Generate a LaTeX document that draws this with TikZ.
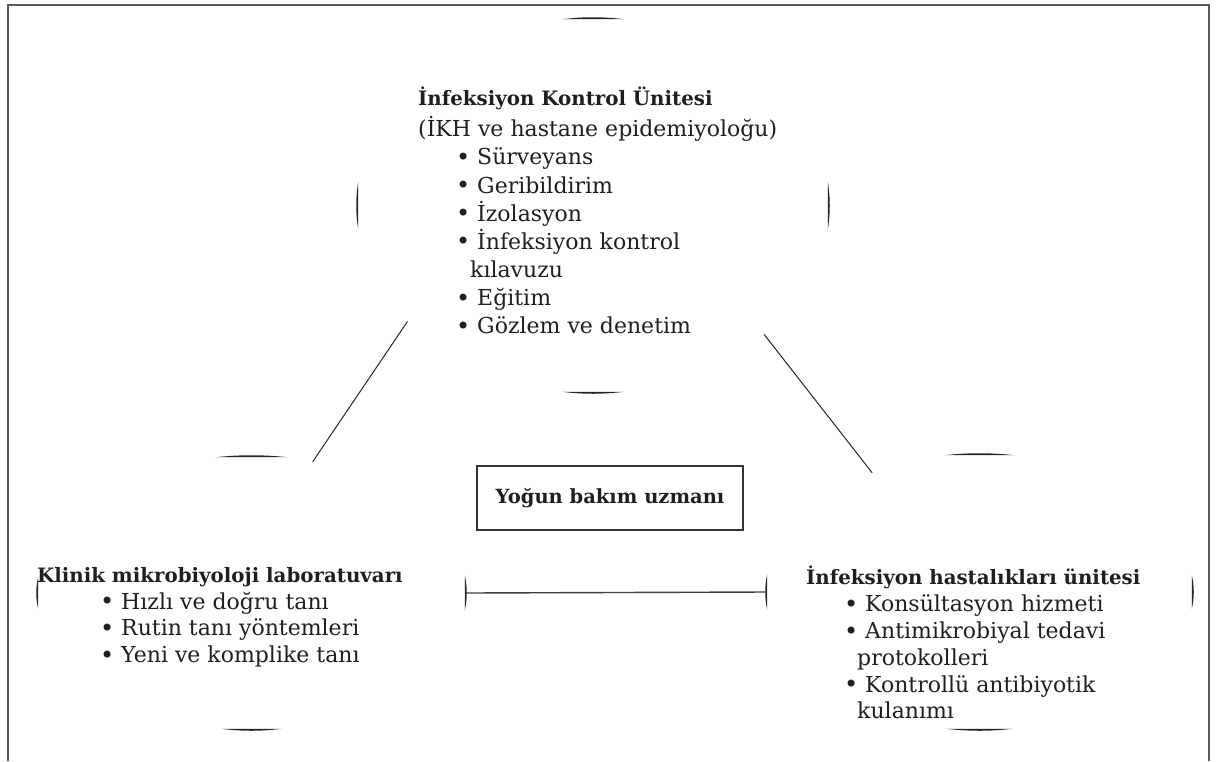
\documentclass[tikz,border=0pt]{standalone}
\usepackage{fontspec}
\setmainfont{DejaVu Serif}
\usetikzlibrary{shapes.geometric}
\newcommand\emark[3]{\fill[markc,shift={(#1)},rotate=#2] (-#3,1.2) .. controls (-0.3*#3,-1.4) and (0.3*#3,-1.4) .. (#3,1.2) .. controls (0.3*#3,1.0) and (-0.3*#3,1.0) .. cycle;}
\newcommand\bitem[1]{\hspace*{#1}\makebox[15pt][c]{\raisebox{-0.7pt}{\fontsize{24}{24}\selectfont\textbullet}}\hspace*{6.5pt}}
\newcommand\btitle[1]{{\fontsize{19.8}{27}\selectfont\bfseries #1}}
\begin{document}
\begin{tikzpicture}[x=1pt,y=-1pt,
  markc/.style={fill=black!85},
  ring/.style={ellipse,draw=none,inner sep=0pt,outer sep=0pt},
  conn/.style={draw=black!85,line width=1pt},
  hconn/.style={draw=black!75,line width=1.4pt},
  txt/.style={anchor=north west,inner sep=0pt,align=left,text=black!88},
  toptxt/.style={txt,font=\fontsize{22}{28.1}\selectfont},
  lowtxt/.style={txt,font=\fontsize{22}{26.8}\selectfont},
  centerbox/.style={draw=black!80,line width=1.2pt,minimum width=266pt,minimum height=64pt,inner sep=0pt,font=\fontsize{19.5}{27}\selectfont\bfseries,text=black!88}]
\useasboundingbox (0,0) rectangle (1217,761);
\draw[black!65,line width=1.5pt] (8,761) -- (8,5) -- (1209,5) -- (1209,761);
% rings
\node[ring,minimum width=472pt,minimum height=375pt] (ikc) at (593,205.5) {};
\node[ring,minimum width=429pt,minimum height=274pt] (lab) at (251.5,593) {};
\node[ring,minimum width=427pt,minimum height=276pt] (ihu) at (979.5,592) {};
\emark{ikc.north}{0}{31}
\emark{ikc.south}{180}{31}
\emark{ikc.west}{90}{24}
\emark{ikc.east}{-90}{24}
\emark{lab.north}{0}{36}
\emark{lab.south}{180}{30}
\emark{lab.west}{90}{16}
\emark{lab.east}{-90}{18}
\emark{ihu.north}{0}{35}
\emark{ihu.south}{180}{33}
\emark{ihu.west}{90}{18}
\emark{ihu.east}{-90}{17}
% connectors
\draw[conn] (ikc.212.5) -- (lab.65.5);
\draw[conn] (ikc.323.7) -- (ihu.132.6);
\draw[hconn] (lab.east) -- (ihu.west);
% texts
\node[toptxt] (ikctext) at (418,87) {\btitle{İnfeksiyon Kontrol Ünitesi}\\[3pt]
(İKH ve hastane epidemiyoloğu)\\
\bitem{37.5pt}Sürveyans\\
\bitem{37.5pt}Geribildirim\\
\bitem{37.5pt}İzolasyon\\
\bitem{37.5pt}İnfeksiyon kontrol\\
\hspace*{52pt}kılavuzu\\
\bitem{37.5pt}Eğitim\\
\bitem{37.5pt}Gözlem ve denetim};
\node[lowtxt] (labtext) at (37,567) {\btitle{Klinik mikrobiyoloji laboratuvarı}\\
\bitem{62.5pt}Hızlı ve doğru tanı\\
\bitem{62.5pt}Rutin tanı yöntemleri\\
\bitem{62.5pt}Yeni ve komplike tanı};
\node[lowtxt] (ihutext) at (806,566) {\btitle{İnfeksiyon hastalıkları ünitesi}\\
\bitem{37.5pt}Konsültasyon hizmeti\\
\bitem{37.5pt}Antimikrobiyal tedavi\\
\hspace*{51pt}protokolleri\\
\bitem{37.5pt}Kontrollü antibiyotik\\
\hspace*{51pt}kulanımı};
\node[centerbox] (ybu) at (610,498) {Yoğun bakım uzmanı};
\end{tikzpicture}
\end{document}
